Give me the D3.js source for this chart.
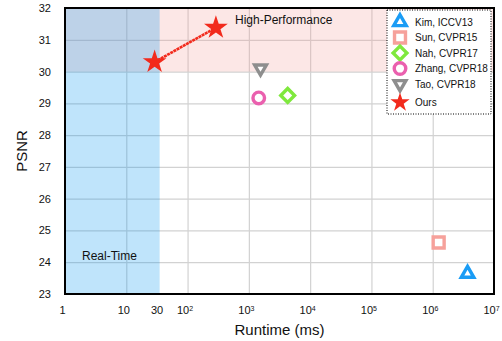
<!DOCTYPE html>
<html>
<head>
<meta charset="utf-8">
<script src="https://cdn.jsdelivr.net/npm/d3@7"></script>
<style>
  body { margin: 0; background: #fff; }
  text { font-family: "Liberation Sans", Arial, Helvetica, sans-serif; fill: #111; }
</style>
</head>
<body>
<svg id="chart"></svg>
<script>
// methods compared (single point each)
const methods = ["Kim, ICCV13", "Sun, CVPR15", "Nah, CVPR17", "Zhang, CVPR18", "Tao, CVPR18"];
const runtimes = [3.7e6, 1.25e6, 4300, 1450, 1550];
const psnrs = [23.64, 24.62, 29.25, 29.17, 30.1];

// ours: two variants joined by a line
const oursRuntimes = [29, 290];
const oursPsnrs = [30.3, 31.38];

// the "30" tick / real-time edge sits a bit right of log10(30) in the picture
const xTicks = [1, 10, 35, 100, 1e3, 1e4, 1e5, 1e6, 1e7];
const xTickLabels = ["1", "10", "30", "10|2", "10|3", "10|4", "10|5", "10|6", "10|7"];
const yTicks = [23, 24, 25, 26, 27, 28, 29, 30, 31, 32];

const realTimeLimit = 35;   // ms (labelled 30)
const highPerfLimit = 30;   // dB

const width = 502;
const height = 341;
const margin = { top: 8, right: 8, bottom: 47, left: 65 };

const svg = d3.select('#chart').attr('width', width).attr('height', height);

const x = d3.scaleLog()
  .domain([1, 1e7])
  .range([margin.left, width - margin.right]);

const y = d3.scaleLinear()
  .domain([23, 32])
  .range([height - margin.bottom, margin.top]);

// gridlines
svg.append('g')
  .attr('transform', `translate(0, ${height - margin.bottom})`)
  .call(d3.axisBottom(x)
    .tickValues(xTicks.filter(d => d !== realTimeLimit && d > 1 && d < 1e7))
    .tickSize(-(height - margin.top - margin.bottom))
    .tickFormat(''))
  .call(g => g.select('.domain').remove())
  .call(g => g.selectAll('line').attr('stroke', '#d2d2d2').attr('stroke-width', 1.2));

svg.append('g')
  .attr('transform', `translate(${margin.left}, 0)`)
  .call(d3.axisLeft(y)
    .tickValues(yTicks.filter(d => d > 23 && d < 32))
    .tickSize(-(width - margin.left - margin.right))
    .tickFormat(''))
  .call(g => g.select('.domain').remove())
  .call(g => g.selectAll('line').attr('stroke', '#d2d2d2').attr('stroke-width', 1.2));

// shaded regions
svg.append('rect')
  .attr('x', x(1))
  .attr('y', y(32))
  .attr('width', x(1e7) - x(1))
  .attr('height', y(highPerfLimit) - y(32))
  .attr('fill', '#f59f9b')
  .attr('fill-opacity', 0.25);

svg.append('rect')
  .attr('x', x(1))
  .attr('y', y(32))
  .attr('width', x(realTimeLimit) - x(1))
  .attr('height', y(23) - y(32))
  .attr('fill', '#0093ef')
  .attr('fill-opacity', 0.25);

svg.append('text')
  .attr('x', 235)
  .attr('y', 24)
  .attr('font-size', 12)
  .text('High-Performance');

svg.append('text')
  .attr('x', 82)
  .attr('y', 260)
  .attr('font-size', 12)
  .text('Real-Time');

// frame
svg.append('rect')
  .attr('x', margin.left)
  .attr('y', margin.top)
  .attr('width', width - margin.left - margin.right)
  .attr('height', height - margin.top - margin.bottom)
  .attr('fill', 'none')
  .attr('stroke', '#000')
  .attr('stroke-width', 2);

// axes labels
const xAxis = svg.append('g')
  .attr('transform', `translate(0, ${height - margin.bottom})`)
  .call(d3.axisBottom(x).tickValues(xTicks).tickSize(0).tickPadding(12).tickFormat(''))
  .call(g => g.select('.domain').remove());

xAxis.selectAll('.tick text')
  .attr('font-size', 11)
  .attr('fill', '#111')
  .attr('dx', -3)
  .each(function (d, i) {
    const [base, sup] = xTickLabels[i].split('|');
    const t = d3.select(this);
    t.text(null);
    t.append('tspan').text(base);
    if (sup) t.append('tspan').attr('font-size', 7).attr('dy', -3).text(sup);
  });

svg.append('g')
  .attr('transform', `translate(${margin.left}, 0)`)
  .call(d3.axisLeft(y).tickValues(yTicks).tickSize(0).tickPadding(14))
  .call(g => g.select('.domain').remove())
  .call(g => g.selectAll('text').attr('font-size', 11).attr('fill', '#111'));

svg.append('text')
  .attr('x', (margin.left + width - margin.right) / 2)
  .attr('y', 335)
  .attr('text-anchor', 'middle')
  .attr('font-size', 15)
  .text('Runtime (ms)');

svg.append('text')
  .attr('transform', `translate(27, ${(margin.top + height - margin.bottom) / 2}) rotate(-90)`)
  .attr('text-anchor', 'middle')
  .attr('font-size', 15)
  .text('PSNR');

// markers
const styles = [
  { color: '#1a9cf5', type: d3.symbolTriangle, size: 68, rot: 0 },
  { color: '#f6a19b', type: d3.symbolSquare, size: 120, rot: 0 },
  { color: '#7fe83d', type: d3.symbolSquare, size: 95, rot: 45 },
  { color: '#ea60ae', type: d3.symbolCircle, size: 105, rot: 0 },
  { color: '#8e8e8e', type: d3.symbolTriangle, size: 60, rot: 180 }
];
const oursColor = '#f22a1c';

svg.append('g')
  .selectAll('path')
  .data(methods)
  .join('path')
  .attr('transform', (d, i) => `translate(${x(runtimes[i])}, ${y(psnrs[i])}) rotate(${styles[i].rot})`)
  .attr('d', (d, i) => d3.symbol(styles[i].type, styles[i].size)())
  .attr('fill', '#fff')
  .attr('stroke', (d, i) => styles[i].color)
  .attr('stroke-width', 3.4);

svg.append('path')
  .datum(oursRuntimes.map((r, i) => [r, oursPsnrs[i]]))
  .attr('d', d3.line().x(d => x(d[0])).y(d => y(d[1])))
  .attr('fill', 'none')
  .attr('stroke', oursColor)
  .attr('stroke-width', 2.6)
  .attr('stroke-dasharray', '3,0.6');

svg.append('g')
  .selectAll('path')
  .data(oursRuntimes)
  .join('path')
  .attr('transform', (d, i) => `translate(${x(d)}, ${y(oursPsnrs[i])})`)
  .attr('d', d3.symbol(d3.symbolStar, 175)())
  .attr('fill', oursColor);

// legend
const legend = svg.append('g').attr('transform', 'translate(387, 10)');
legend.append('rect')
  .attr('width', 104)
  .attr('height', 104)
  .attr('fill', '#fff')
  .attr('stroke', '#000')
  .attr('stroke-width', 1)
  .attr('stroke-dasharray', '1,1.5');

const rowY = [12, 27.5, 43, 58.5, 74, 92.5];
const labels = methods.concat(['Ours']);
const rows = legend.selectAll('g.row')
  .data(labels)
  .join('g')
  .attr('class', 'row')
  .attr('transform', (d, i) => `translate(0, ${rowY[i]})`);

rows.append('path')
  .attr('transform', (d, i) => `translate(13, 0) rotate(${i < 5 ? styles[i].rot : 0})`)
  .attr('d', (d, i) => i < 5
    ? d3.symbol(styles[i].type, styles[i].size)()
    : d3.symbol(d3.symbolStar, 115)())
  .attr('fill', (d, i) => i < 5 ? '#fff' : oursColor)
  .attr('stroke', (d, i) => i < 5 ? styles[i].color : 'none')
  .attr('stroke-width', 3.4);

rows.append('text')
  .attr('x', 28)
  .attr('y', 3.5)
  .attr('font-size', 10)
  .text(d => d);
</script>
</body>
</html>
